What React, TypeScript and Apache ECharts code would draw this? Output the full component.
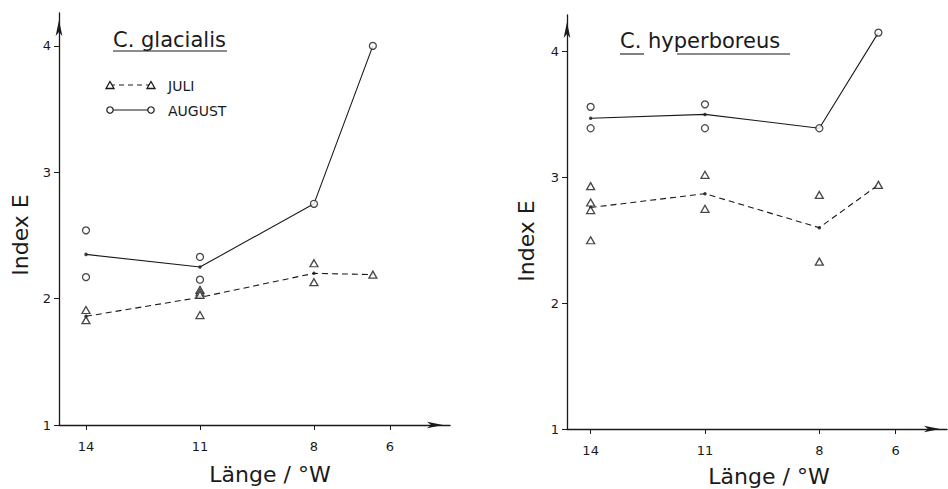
import React, { useEffect, useRef } from "react";
import * as echarts from "echarts";

// Axis ticks
const xTicks = [14, 11, 8, 6];
const yTicks = [1, 2, 3, 4];

// C. glacialis — individual observations [Länge °W, Index E]
const glacJuliObs: [number, number][] = [
  [14, 1.91], [14, 1.83],
  [11, 2.07], [11, 2.05], [11, 2.03], [11, 1.87],
  [8, 2.28], [8, 2.13],
  [6.45, 2.19],
];
const glacJuliMean: [number, number][] = [[14, 1.86], [11, 2.01], [8, 2.2], [6.45, 2.19]];
const glacAugObs: [number, number][] = [
  [14, 2.54], [14, 2.17],
  [11, 2.33], [11, 2.15],
  [8, 2.75],
  [6.45, 4.0],
];
const glacAugMean: [number, number][] = [[14, 2.35], [11, 2.25], [8, 2.75], [6.45, 4.0]];

// C. hyperboreus
const hypJuliObs: [number, number][] = [
  [14, 2.93], [14, 2.8], [14, 2.74], [14, 2.5],
  [11, 3.02], [11, 2.75],
  [8, 2.86], [8, 2.33],
  [6.45, 2.94],
];
const hypJuliMean: [number, number][] = [[14, 2.76], [11, 2.87], [8, 2.6], [6.45, 2.94]];
const hypAugObs: [number, number][] = [
  [14, 3.56], [14, 3.39],
  [11, 3.58], [11, 3.39],
  [8, 3.39],
  [6.45, 4.15],
];
const hypAugMean: [number, number][] = [[14, 3.47], [11, 3.5], [8, 3.39], [6.45, 4.15]];

const INK = "#1a1a1a";
const FONT = "DejaVu Sans";

export default function App() {
  const ref = useRef<HTMLDivElement>(null);

  useEffect(() => {
    if (!ref.current) return;
    const chart = echarts.init(ref.current, null, { renderer: "svg" });

    const makeX = (gridIndex: number, min: number, max: number) => ({
      gridIndex,
      type: "value",
      inverse: true,
      min,
      max,
      axisLine: {
        show: true,
        lineStyle: { color: INK, width: 1.3 },
        symbol: ["none", "arrow"],
        symbolSize: [5, 16],
        symbolOffset: [0, -7],
      },
      axisTick: { show: true, customValues: xTicks, length: 5, lineStyle: { color: INK } },
      axisLabel: {
        customValues: xTicks,
        color: INK,
        fontFamily: FONT,
        fontSize: 13,
        margin: 15,
      },
      splitLine: { show: false },
    });

    const makeY = (gridIndex: number, max: number) => ({
      gridIndex,
      type: "value",
      min: 1,
      max,
      axisLine: {
        show: true,
        lineStyle: { color: INK, width: 1.3 },
        symbol: ["none", "arrow"],
        symbolSize: [5, 16],
        symbolOffset: [0, -7],
      },
      axisTick: { show: true, customValues: yTicks, length: 5, lineStyle: { color: INK } },
      axisLabel: {
        customValues: yTicks,
        color: INK,
        fontFamily: FONT,
        fontSize: 13,
        margin: 8,
      },
      splitLine: { show: false },
    });

    const lineSeries = (idx: number, data: [number, number][], dashed: boolean) => ({
      type: "line",
      xAxisIndex: idx,
      yAxisIndex: idx,
      data,
      showSymbol: false,
      symbol: "none",
      lineStyle: { color: INK, width: 1.1, type: dashed ? [6, 4] : "solid" },
      z: 2,
    });

    const dotSeries = (idx: number, data: [number, number][]) => ({
      type: "scatter",
      xAxisIndex: idx,
      yAxisIndex: idx,
      data,
      symbol: "circle",
      symbolSize: 3.5,
      itemStyle: { color: INK },
      z: 3,
    });

    const obsSeries = (idx: number, data: [number, number][], tri: boolean) => ({
      type: "scatter",
      xAxisIndex: idx,
      yAxisIndex: idx,
      data,
      symbol: tri ? "triangle" : "circle",
      symbolSize: tri ? [8, 7] : 7,
      itemStyle: { color: "#fff", borderColor: INK, borderWidth: 1.3 },
      z: 4,
    });

    const tri = (cx: number, cy: number) => ({
      type: "polygon",
      shape: { points: [[cx - 4, cy + 3.5], [cx + 4, cy + 3.5], [cx, cy - 3.5]] },
      style: { fill: "#fff", stroke: INK, lineWidth: 1.3 },
      z: 10,
    });
    const circ = (cx: number, cy: number) => ({
      type: "circle",
      shape: { cx, cy, r: 3.2 },
      style: { fill: "#fff", stroke: INK, lineWidth: 1.2 },
      z: 10,
    });
    const seg = (x1: number, y1: number, x2: number, y2: number, dash?: number[]) => ({
      type: "line",
      shape: { x1, y1, x2, y2 },
      style: { stroke: INK, lineWidth: 1.1, lineDash: dash },
      z: 9,
    });
    const txt = (x: number, y: number, text: string, size: number, align: string, rotation = 0) => ({
      type: "text",
      x,
      y,
      rotation,
      style: {
        text,
        fill: INK,
        font: `${size}px "${FONT}"`,
        align,
        verticalAlign: "middle",
      },
      z: 10,
    });

    chart.setOption({
      animation: false,
      backgroundColor: "#fff",
      grid: [
        { left: 59, top: 13, width: 391, height: 412 },
        { left: 567, top: 15, width: 380, height: 414 },
      ],
      xAxis: [makeX(0, 4.42, 14.71), makeX(1, 4.65, 14.62)],
      yAxis: [makeY(0, 4.26), makeY(1, 4.29)],
      series: [
        lineSeries(0, glacJuliMean, true),
        lineSeries(0, glacAugMean, false),
        dotSeries(0, glacJuliMean.slice(0, 3)),
        dotSeries(0, glacAugMean.slice(0, 2)),
        obsSeries(0, glacJuliObs, true),
        obsSeries(0, glacAugObs, false),
        lineSeries(1, hypJuliMean, true),
        lineSeries(1, hypAugMean, false),
        dotSeries(1, hypJuliMean.slice(0, 3)),
        dotSeries(1, hypAugMean.slice(0, 2)),
        obsSeries(1, hypJuliObs, true),
        obsSeries(1, hypAugObs, false),
      ],
      graphic: [
        // titles
        txt(113, 40, "C. glacialis", 21, "left"),
        seg(113, 51, 227, 51),
        txt(620, 41, "C. hyperboreus", 21, "left"),
        seg(620, 54, 644, 54),
        seg(677, 54, 790, 54),
        // axis names
        txt(20, 235, "Index E", 22, "center", Math.PI / 2),
        txt(526, 241, "Index E", 22, "center", Math.PI / 2),
        txt(270, 474, "Länge / °W", 22, "center"),
        txt(769, 476, "Länge / °W", 22, "center"),
        // legend
        seg(110, 85, 151, 85, [5, 4]),
        tri(110, 85),
        tri(151, 85),
        txt(168, 86, "JULI", 14, "left"),
        seg(110, 110, 151, 110),
        circ(110, 110),
        circ(151, 110),
        txt(168, 111, "AUGUST", 14, "left"),
      ],
    });

    return () => chart.dispose();
  }, []);

  return (
    <div
      ref={ref}
      style={{ position: "fixed", left: 0, top: 0, width: 948, height: 489, background: "#fff" }}
    />
  );
}
